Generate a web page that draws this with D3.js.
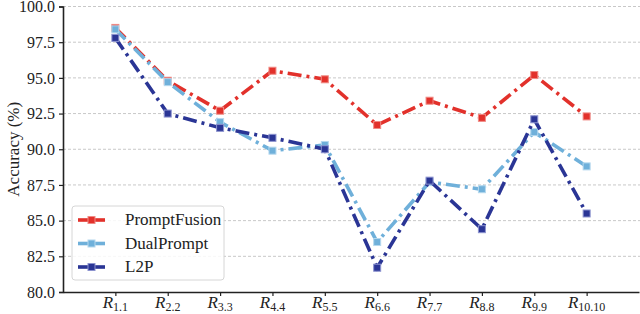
<!DOCTYPE html>
<html>
<head>
<meta charset="utf-8">
<script src="https://cdn.jsdelivr.net/npm/d3@7"></script>
<style>
  body { margin: 0; background: #fff; }
</style>
</head>
<body>
<svg id="chart" width="640" height="314"></svg>
<script>
// data
const rounds = ['1.1', '2.2', '3.3', '4.4', '5.5', '6.6', '7.7', '8.8', '9.9', '10.10']
const promptFusion = [98.5, 94.8, 92.7, 95.5, 94.9, 91.7, 93.4, 92.2, 95.2, 92.3]
const dualPrompt = [98.4, 94.7, 91.9, 89.9, 90.3, 83.5, 87.7, 87.2, 91.2, 88.8]
const l2p = [97.8, 92.5, 91.5, 90.8, 90.0, 81.7, 87.8, 84.4, 92.1, 85.5]
const yTicks = [80, 82.5, 85, 87.5, 90, 92.5, 95, 97.5, 100]

const series = [
    { name: 'PromptFusion', values: promptFusion, color: '#e2312b', edge: '#f08a84' },
    { name: 'DualPrompt', values: dualPrompt, color: '#6fb0da', edge: '#b5d8ee' },
    { name: 'L2P', values: l2p, color: '#2a3595', edge: '#8c93cf' }
]

const font = '"Liberation Serif", serif'

const svg = d3.select('#chart')
const plotLeft = 63, plotRight = 639, plotTop = 6.5, plotBottom = 292

const x = d3.scaleLinear().domain([0, 11]).range([plotLeft, plotRight])
const y = d3.scaleLinear().domain([80, 100]).range([plotBottom, plotTop])

// grid
svg.append('g').selectAll('line')
    .data(yTicks.slice(1))
    .enter().append('line')
    .attr('x1', plotLeft).attr('x2', 640)
    .attr('y1', d => y(d)).attr('y2', d => y(d))
    .attr('stroke', '#c8c8c8')
    .attr('stroke-width', 1)
    .attr('stroke-dasharray', '3,2')

// y axis
const yAxis = svg.append('g')
    .attr('transform', 'translate(' + plotLeft + ',0)')
    .call(d3.axisLeft(y).tickValues(yTicks).tickFormat(d3.format('.1f')).tickSize(4).tickPadding(4))
yAxis.attr('font-family', null)
yAxis.select('.domain').attr('stroke', '#222').attr('stroke-width', 1.6)
yAxis.selectAll('.tick line').attr('stroke', '#222').attr('stroke-width', 1.2)
yAxis.selectAll('.tick text')
    .style('font-family', font)
    .style('font-size', '16px')
    .attr('fill', '#222')

// x axis
const xAxis = svg.append('g')
    .attr('transform', 'translate(0,' + plotBottom + ')')
    .call(d3.axisBottom(x).tickValues(d3.range(1, 11)).tickFormat('').tickSize(4).tickSizeOuter(0))
xAxis.select('.domain').attr('stroke', '#222').attr('stroke-width', 1.6)
xAxis.selectAll('.tick line').attr('stroke', '#222').attr('stroke-width', 1.2)

const xl = svg.append('g').selectAll('text')
    .data(rounds)
    .enter().append('text')
    .attr('x', (d, i) => x(i + 1))
    .attr('y', 308)
    .attr('text-anchor', 'middle')
    .attr('fill', '#222')
    .style('font-family', font)
    .style('font-size', '17px')
xl.append('tspan').style('font-style', 'italic').text('R')
xl.append('tspan').attr('dy', 3).style('font-size', '12px').text(d => d)

// y label
svg.append('text')
    .attr('transform', 'translate(19,' + ((plotTop + plotBottom) / 2) + ') rotate(-90)')
    .attr('text-anchor', 'middle')
    .attr('fill', '#222')
    .style('font-family', font)
    .style('font-size', '17px')
    .text('Accuracy (%)')

const line = d3.line()
    .x((d, i) => x(i + 1))
    .y(d => y(d))

series.forEach(s => {
    const g = svg.append('g')
    g.append('path')
        .attr('d', line(s.values))
        .attr('fill', 'none')
        .attr('stroke', s.color)
        .attr('stroke-width', 3.6)
        .attr('stroke-dasharray', '14,5,3,5')
    g.selectAll('rect')
        .data(s.values)
        .enter().append('rect')
        .attr('x', (d, i) => x(i + 1) - 3.5)
        .attr('y', d => y(d) - 3.5)
        .attr('width', 7).attr('height', 7)
        .attr('fill', s.color)
        .attr('stroke', s.edge)
        .attr('stroke-width', 1)
})

// legend
const legend = svg.append('g').attr('transform', 'translate(72,206)')
legend.append('rect')
    .attr('width', 152).attr('height', 74)
    .attr('rx', 3)
    .attr('fill', '#fff').attr('fill-opacity', 0.85)
    .attr('stroke', '#d6d6d6')
const items = legend.selectAll('g.item')
    .data(series)
    .enter().append('g')
    .attr('class', 'item')
    .attr('transform', (d, i) => 'translate(0,' + (14 + i * 23.5) + ')')
items.append('line')
    .attr('x1', 6).attr('x2', 33)
    .attr('stroke', d => d.color).attr('stroke-width', 3.6)
items.append('rect')
    .attr('x', 16).attr('y', -3.5).attr('width', 7).attr('height', 7)
    .attr('fill', d => d.color).attr('stroke', d => d.edge)
items.append('text')
    .attr('x', 53).attr('y', 5)
    .attr('fill', '#222')
    .style('font-family', font)
    .style('font-size', '17px')
    .text(d => d.name)
</script>
</body>
</html>
